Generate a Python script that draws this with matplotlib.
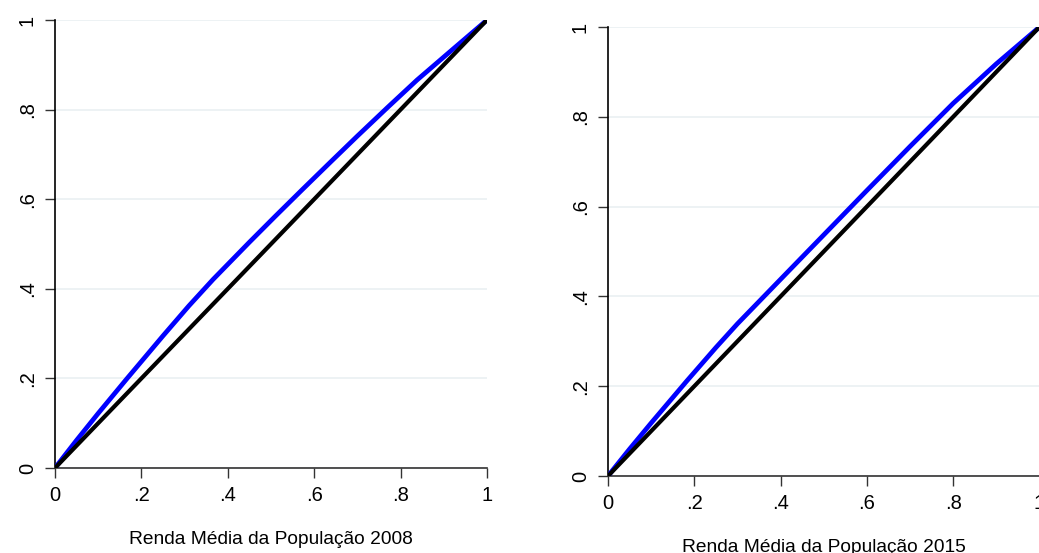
import matplotlib
matplotlib.use("Agg")
import matplotlib.pyplot as plt

plt.rcParams["font.family"] = ["Liberation Sans", "DejaVu Sans"]

# curva de concentração
x_2008 = [0, 0.05, 0.1, 0.167, 0.25, 0.31, 0.366, 0.45, 0.51, 0.572, 0.64,
          0.7, 0.77, 0.838, 0.92, 1]
y_2008 = [0, 0.062, 0.122, 0.2, 0.295, 0.362, 0.421, 0.504, 0.562, 0.621,
          0.685, 0.741, 0.805, 0.866, 0.934, 1]
x_2015 = [0, 0.05, 0.1, 0.183, 0.25, 0.3, 0.41, 0.5, 0.6, 0.7, 0.8, 0.9, 1]
y_2015 = [0, 0.06, 0.118, 0.212, 0.286, 0.339, 0.448, 0.537, 0.636, 0.734,
          0.83, 0.918, 1]
diag = [0, 1]

ticks = [0, 0.2, 0.4, 0.6, 0.8, 1]
tick_labels = ["0", ".2", ".4", ".6", ".8", "1"]
titles = ["Renda Média da População 2008", "Renda Média da População 2015"]

W, H = 1039, 553
fig = plt.figure(figsize=(W / 100, H / 100), dpi=100)

boxes = [
    (55 / W, (H - 468) / H, 432 / W, 448 / H),
    (608 / W, (H - 476) / H, 431.5 / W, 449 / H),
]
series = [(x_2008, y_2008), (x_2015, y_2015)]

for box, (xs, ys), title in zip(boxes, series, titles):
    ax = fig.add_axes(box)
    ax.plot(xs, ys, color="#0000ff", lw=3.4, solid_joinstyle="round", zorder=3)
    ax.plot(diag, diag, color="black", lw=3.0, solid_capstyle="butt", zorder=4)
    ax.set_xlim(0, 1)
    ax.set_ylim(0, 1)
    ax.set_xticks(ticks)
    ax.set_xticklabels(tick_labels)
    ax.set_yticks(ticks)
    ax.set_yticklabels(tick_labels, rotation=90, va="center")
    ax.tick_params(labelsize=14.5, length=7, width=1, color="#333333", pad=6)
    ax.grid(axis="y", color="#eaf0f2", lw=1.2, zorder=0)
    ax.spines["top"].set_visible(False)
    ax.spines["right"].set_visible(False)
    ax.spines["left"].set_color("black")
    ax.spines["bottom"].set_color("#333333")
    for s in ("left", "bottom"):
        ax.spines[s].set_linewidth(1.2)
    ax.set_xlabel(title, fontsize=13.8, labelpad=19)

fig.savefig("out.png", dpi=100)
